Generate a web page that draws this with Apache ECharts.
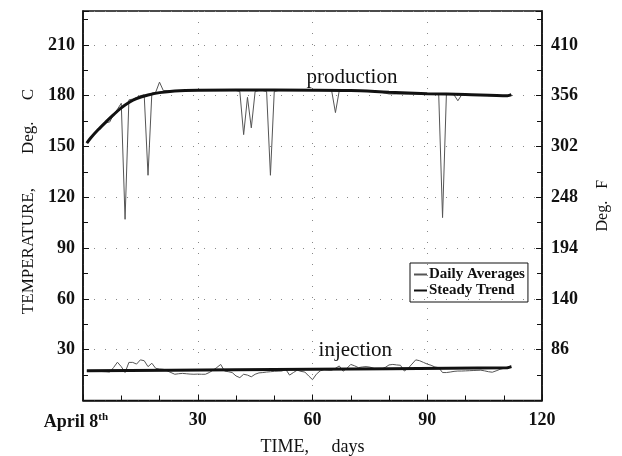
<!DOCTYPE html>
<html>
<head>
<meta charset="utf-8">
<script src="https://cdn.jsdelivr.net/npm/echarts@6/dist/echarts.min.js"></script>
<style>
  html, body { margin: 0; padding: 0; background: #fff; }
  #main { width: 622px; height: 456px; }
</style>
</head>
<body>
<div id="main"></div>
<script>
// daily averages, days 1..112 after April 8th
var prodDaily = [
  152, 155, 157.5, 160, 162, 164, 164.5, 169, 172, 175.5,
  107, 177.5, 178, 179, 180, 180.5, 133, 181.5, 182, 188,
  183, 183, 183, 183, 183, 183, 183, 183, 183, 183,
  183, 183, 183, 183, 183, 183, 183, 183, 183, 183,
  182.5, 157, 179, 161, 182.5, 183, 183, 182.5, 133, 182.5,
  183, 183, 183, 183, 183, 183, 183, 183, 183, 183,
  183, 183, 183, 183, 183, 170, 183, 183, 183, 183,
  183, 183, 183, 183, 183, 183, 182.5, 182, 181.5, 181,
  181, 181, 181, 181, 181, 181, 181, 181, 181, 181,
  181, 181, 180.5, 108, 180.5, 181, 180.5, 177, 180.5, 180.5,
  180.5, 180.5, 180.5, 180.5, 180.5, 180, 180, 180, 180, 180,
  179.8, 180
];
var injDaily = [
  17.4, 17.4, 17.3, 17.2, 17.1, 17.0, 16.8, 19.5, 22.6, 20,
  16.5, 22.5, 22.5, 21.5, 24, 23.5, 20, 22, 19, 18.6,
  18.4, 17.5, 16.5, 15.5, 15.8, 16, 15.8, 15.6, 15.5, 15.6,
  15.5, 15.5, 16.5, 17.9, 19.5, 21.3, 17.4, 17.0, 16.5, 14.5,
  13.5, 15.5, 15, 14, 15.5, 16.3, 16.5, 16.8, 17, 17.2,
  17.3, 17.4, 18.4, 15, 16.5, 17.9, 17.2, 16.8, 14.5, 12.3,
  15.5, 17.5, 18.2, 18, 17.9, 19, 20.4, 17.3, 19, 21.3,
  20.5, 19.4, 19.8, 20, 19.7, 19, 18.4, 18.5, 19.5, 21,
  21.3, 21, 20.8, 17.4, 19, 21.5, 24, 23.5, 22.5, 21.5,
  20.8, 19.8, 19.4, 16.5, 16.5, 16.8, 17.2, 17.4, 17.4, 17.5,
  17.6, 17.7, 17.8, 17.9, 17.5, 17, 16.7, 17.5, 18.4, 19,
  19.8, 20.4
];

// steady trend key points
var prodTrendDays = [1, 2, 4, 6, 8, 10, 12, 14, 17, 20, 24, 30, 50, 70, 80, 90, 100, 111, 112];
var prodTrend = [152, 155, 160, 164.5, 168.8, 172.8, 176, 178.3, 180.4, 181.8, 182.8, 183.2, 183.3, 183, 182, 181.2, 180.7, 180, 180.6];
var injTrendDays = [1, 40, 80, 111, 112];
var injTrend = [17.6, 18.1, 18.8, 19.4, 20];

function pairs(xs, ys) {
  return ys.map(function (v, i) { return [xs[i], v]; });
}
function daily(ys) {
  return ys.map(function (v, i) { return [i + 1, v]; });
}

var FONT = 'Liberation Serif';
var INK = '#111';

var chart = echarts.init(document.getElementById('main'));

var dotted = { show: true, lineStyle: { color: '#888', type: [1, 10], width: 1 } };
var tickFont = { fontFamily: FONT, fontSize: 18, fontWeight: 'bold', color: INK };

var option = {
  backgroundColor: '#fff',
  animation: false,
  textStyle: { fontFamily: FONT, color: INK },
  grid: {
    left: 83, right: 80, top: 11, bottom: 55.5,
    outerBoundsMode: 'none',
    containLabel: false,
    show: true, borderColor: INK, borderWidth: 1.5
  },
  legend: {
    orient: 'vertical',
    left: 410, top: 263,
    padding: [4, 3, 4, 3],
    itemGap: 1,
    itemWidth: 13,
    itemHeight: 10,
    borderColor: INK,
    borderWidth: 1,
    borderRadius: 0,
    itemStyle: { opacity: 0 },
    textStyle: { fontFamily: FONT, fontSize: 15, color: INK, fontWeight: 'bold', padding: [0, 0, 0, -3] },
    data: ['Daily Averages', 'Steady Trend']
  },
  xAxis: {
    type: 'value',
    min: 0, max: 120, interval: 30,
    name: 'TIME,     days',
    nameLocation: 'middle',
    nameGap: 38,
    nameTextStyle: { fontFamily: FONT, fontSize: 18, color: INK },
    axisLine: { lineStyle: { color: INK, width: 1.5 } },
    axisTick: { inside: true, length: 6, lineStyle: { color: INK } },
    minorTick: { show: true, splitNumber: 3, length: 5, lineStyle: { color: INK } },
    splitLine: dotted,
    axisLabel: Object.assign({
      margin: 11,
      formatter: function (v) { return v === 0 ? '{a|April 8}{s|th}' : String(v); },
      rich: {
        a: tickFont,
        s: { fontFamily: FONT, fontSize: 11, fontWeight: 'bold', color: INK, padding: [0, 14, 10, 0] }
      }
    }, tickFont)
  },
  yAxis: [{
    type: 'value',
    min: 0, max: 230, interval: 30,
    name: '  TEMPERATURE,        Deg.     C',
    nameLocation: 'middle',
    nameGap: 46,
    nameRotate: 90,
    nameTextStyle: { fontFamily: FONT, fontSize: 17, color: INK },
    axisLine: { show: true, lineStyle: { color: INK, width: 1.5 } },
    axisTick: { show: true, inside: true, length: 6, lineStyle: { color: INK } },
    minorTick: { show: true, splitNumber: 2, length: 5, lineStyle: { color: INK } },
    splitLine: dotted,
    axisLabel: Object.assign({
      margin: 8,
      formatter: function (v) { return (v > 0 && v % 30 === 0) ? String(v) : ''; }
    }, tickFont)
  }, {
    type: 'value',
    position: 'right',
    min: 0, max: 230, interval: 30,
    name: 'Deg.   F',
    nameLocation: 'middle',
    nameGap: 53,
    nameRotate: 90,
    nameTextStyle: { fontFamily: FONT, fontSize: 16, color: INK },
    axisLine: { show: true, lineStyle: { color: INK, width: 1.5 } },
    axisTick: { show: true, inside: true, length: 6, lineStyle: { color: INK } },
    minorTick: { show: true, splitNumber: 2, length: 5, lineStyle: { color: INK } },
    splitLine: { show: false },
    axisLabel: Object.assign({
      margin: 9,
      formatter: function (v) { return (v > 0 && v % 30 === 0) ? String(Math.round(v * 1.8 + 32)) : ''; }
    }, tickFont)
  }],
  series: [{
    name: 'Daily Averages',
    type: 'line',
    data: daily(prodDaily),
    symbol: 'none',
    lineStyle: { color: '#555', width: 1 },
    itemStyle: { color: '#888' },
    z: 2,
    markPoint: {
      symbol: 'circle', symbolSize: 0,
      label: { show: true, position: 'inside', formatter: 'production', fontFamily: FONT, fontSize: 21, color: INK },
      data: [{ coord: [70.3, 190.5] }]
    }
  }, {
    name: 'Daily Averages',
    type: 'line',
    data: daily(injDaily),
    symbol: 'none',
    lineStyle: { color: '#555', width: 1 },
    itemStyle: { color: '#888' },
    z: 2,
    markPoint: {
      symbol: 'circle', symbolSize: 0,
      label: { show: true, position: 'inside', formatter: 'injection', fontFamily: FONT, fontSize: 21, color: INK },
      data: [{ coord: [71.2, 29.5] }]
    }
  }, {
    name: 'Steady Trend',
    type: 'line',
    data: pairs(prodTrendDays, prodTrend),
    smooth: 0.3,
    symbol: 'none',
    lineStyle: { color: INK, width: 3 },
    itemStyle: { color: INK },
    z: 3
  }, {
    name: 'Steady Trend',
    type: 'line',
    data: pairs(injTrendDays, injTrend),
    smooth: 0.3,
    symbol: 'none',
    lineStyle: { color: INK, width: 3 },
    itemStyle: { color: INK },
    z: 3
  }]
};

chart.setOption(option);
window.onresize = chart.resize;
</script>
</body>
</html>
